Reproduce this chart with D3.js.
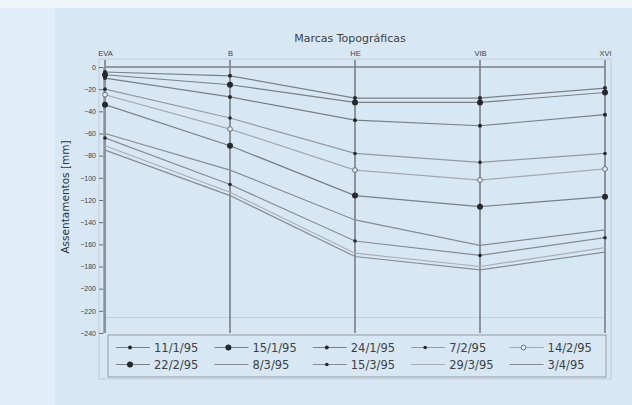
<!DOCTYPE html>
<html>
<head>
<meta charset="utf-8">
<script src="https://cdn.jsdelivr.net/npm/d3@7"></script>
<style>
  html, body { margin: 0; padding: 0; background: #eef4fa; }
  svg { display: block; font-family: 'DejaVu Sans', sans-serif; }
</style>
</head>
<body>
<div id="chart"></div>
<script>
// stations along the embankment (top axis)
const stations = ['EVA', 'B', 'HE', 'VIB', 'XVI'];
const yTicks = [0, -20, -40, -60, -80, -100, -120, -140, -160, -180, -200, -220, -240];

// survey dates (one line per date)
const dates = ['11/1/95', '15/1/95', '24/1/95', '7/2/95', '14/2/95',
  '22/2/95', '8/3/95', '15/3/95', '29/3/95', '3/4/95'];

// settlement [mm] per station, one array per date
const s11jan = [-4.5, -8, -28, -28, -19];
const s15jan = [-7, -16, -32, -32, -23];
const s24jan = [-10, -27, -48, -53, -43];
const s07feb = [-20, -46, -78, -86, -78];
const s14feb = [-25, -56, -93, -102, -92];
const s22feb = [-34, -71, -116, -126, -117];
const s08mar = [-60, -93, -138, -161, -147];
const s15mar = [-64, -106, -157, -170, -154];
const s29mar = [-71, -113, -168, -180, -163];
const s03apr = [-75, -116, -171, -183, -167];
const seriesValues = [s11jan, s15jan, s24jan, s07feb, s14feb,
  s22feb, s08mar, s15mar, s29mar, s03apr];

// marker style per date: [kind, radius, line colour]
const STYLES = [
  ['dot', 2.0, '#7a8086'],
  ['dot', 3.0, '#7a8086'],
  ['dot', 2.0, '#7a8086'],
  ['dot', 1.8, '#959ba0'],
  ['open', 2.4, '#a3a9ae'],
  ['dot', 3.0, '#7a8086'],
  ['none', 0, '#878d92'],
  ['dot', 1.8, '#878d92'],
  ['none', 0, '#a8aeb2'],
  ['none', 0, '#878d92'],
];

const W = 632, H = 405;
const PLOT = { left: 105, right: 605, top: 67, bottom: 333 };

const svg = d3.select('#chart').append('svg')
  .attr('width', W)
  .attr('height', H);

svg.append('rect').attr('x', 0).attr('y', 0).attr('width', W).attr('height', H).attr('fill', '#eef4fa');
svg.append('rect').attr('x', 0).attr('y', 8).attr('width', 55).attr('height', H - 8).attr('fill', '#e1edf7');
svg.append('rect').attr('x', 55).attr('y', 8).attr('width', W - 55).attr('height', H - 8).attr('fill', '#d7e8f4');

const x = d3.scalePoint().domain(stations).range([PLOT.left, PLOT.right]);
const y = d3.scaleLinear().domain([0, -240]).range([PLOT.top, PLOT.bottom]);

// faint outer frame
svg.append('rect')
  .attr('x', PLOT.left - 6).attr('y', PLOT.top - 8)
  .attr('width', PLOT.right - PLOT.left + 12).attr('height', 320)
  .attr('fill', 'none').attr('stroke', '#bfcbd4').attr('stroke-width', 1);

svg.append('line')
  .attr('x1', PLOT.left).attr('x2', PLOT.right)
  .attr('y1', y(-226)).attr('y2', y(-226))
  .attr('stroke', '#c3cfd8');

// title
svg.append('text')
  .attr('x', 350).attr('y', 42)
  .attr('text-anchor', 'middle')
  .attr('font-size', 11)
  .attr('fill', '#3d4246')
  .text('Marcas Topográficas');

// station axis on top
const topAxis = svg.append('g').attr('transform', `translate(0,${PLOT.top - 9})`)
  .call(d3.axisTop(x).tickSize(0).tickPadding(2));
topAxis.select('.domain').remove();
topAxis.selectAll('text').attr('font-size', 7.5).attr('fill', '#3d4246');

// station verticals
svg.append('g').selectAll('line')
  .data(stations)
  .join('line')
  .attr('x1', (d) => x(d)).attr('x2', (d) => x(d))
  .attr('y1', PLOT.top - 7).attr('y2', PLOT.bottom)
  .attr('stroke', '#63686d').attr('stroke-width', 1.3);

// zero line
svg.append('line')
  .attr('x1', PLOT.left).attr('x2', PLOT.right)
  .attr('y1', y(0)).attr('y2', y(0))
  .attr('stroke', '#7a8085').attr('stroke-width', 1.3);

// y axis
const leftAxis = svg.append('g').attr('transform', `translate(${PLOT.left - 2},0)`)
  .call(d3.axisLeft(y).tickValues(yTicks).tickSize(4).tickPadding(3).tickFormat(d3.format('d')));
leftAxis.select('.domain').attr('stroke', '#a3acb3');
leftAxis.selectAll('.tick line').attr('stroke', '#6a7075');
leftAxis.selectAll('text').attr('font-size', 7).attr('fill', '#3d4246');

svg.append('text')
  .attr('transform', 'translate(69,197) rotate(-90)')
  .attr('text-anchor', 'middle')
  .attr('font-size', 10.5)
  .attr('fill', '#2f3438')
  .text('Assentamentos [mm]');

// series lines
const line = d3.line()
  .x((d, i) => x(stations[i]))
  .y((d) => y(d));

const series = svg.append('g').selectAll('g')
  .data(seriesValues)
  .join('g');

series.append('path')
  .attr('d', (d) => line(d))
  .attr('fill', 'none')
  .attr('stroke', (d, i) => STYLES[i][2])
  .attr('stroke-width', 1.2);

const drawMarker = (sel, style) => {
  const [kind, r] = style;
  if (kind === 'none') return;
  sel.append('circle')
    .attr('r', r)
    .attr('fill', kind === 'open' ? '#e4eef5' : '#25292c')
    .attr('stroke', kind === 'open' ? '#676c71' : 'none')
    .attr('stroke-width', 1);
};

series.each(function (vals, i) {
  const g = d3.select(this).selectAll('g.pt')
    .data(vals)
    .join('g')
    .attr('class', 'pt')
    .attr('transform', (d, j) => `translate(${x(stations[j])},${y(d)})`);
  drawMarker(g, STYLES[i]);
});

// legend
const LEG = { x: 108, y: 335, w: 498, h: 42 };
svg.append('rect')
  .attr('x', LEG.x).attr('y', LEG.y).attr('width', LEG.w).attr('height', LEG.h)
  .attr('fill', 'none').attr('stroke', '#939ba2').attr('stroke-width', 1);

const colX = d3.scaleBand().domain(d3.range(5)).range([LEG.x + 6, LEG.x + LEG.w]);
const rowY = d3.scaleBand().domain([0, 1]).range([LEG.y + 4, LEG.y + LEG.h - 4]);

const items = svg.append('g').selectAll('g')
  .data(dates)
  .join('g')
  .attr('transform', (d, i) =>
    `translate(${colX(i % 5)},${rowY(Math.floor(i / 5)) + rowY.bandwidth() / 2})`);

items.append('line')
  .attr('x1', 2).attr('x2', 36)
  .attr('stroke', (d, i) => STYLES[i][2])
  .attr('stroke-width', 1.2);

items.each(function (d, i) {
  const m = d3.select(this).append('g').attr('transform', 'translate(16,0)');
  drawMarker(m, STYLES[i]);
});

items.append('text')
  .attr('x', 40).attr('dy', '0.35em')
  .attr('font-size', 11.5)
  .attr('fill', '#3d4246')
  .text((d) => d);
</script>
</body>
</html>
